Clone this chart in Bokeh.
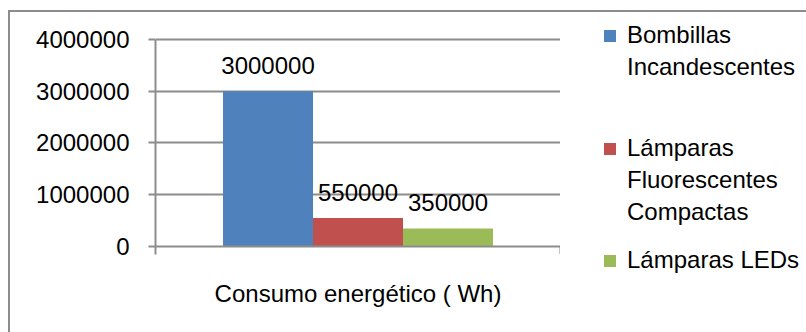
from bokeh.plotting import figure
from bokeh.layouts import row
from bokeh.models import (ColumnDataSource, FactorRange, Range1d, FixedTicker,
                          BasicTickFormatter, Span, Legend, LegendItem)
from bokeh.core.properties import value
from bokeh.transform import dodge
from bokeh.embed import file_html
from bokeh.resources import INLINE

# Chart data
category = ["Consumo energético ( Wh)"]
series = [["Bombillas", "Incandescentes"],
          ["Lámparas", "Fluorescentes", "Compactas"],
          ["Lámparas LEDs"]]
values = [3000000, 550000, 350000]
colors = ["#4F81BD", "#C0504D", "#9BBB59"]
y_ticks = [0, 1000000, 2000000, 3000000, 4000000]

FONT = "Liberation Sans"
GRID = "#8c8c8c"
AXIS_FOOT = -145000          # short drop of the axis below zero

# the frame fills the whole height; the axis itself is bounded to 0..4M
y_range = Range1d(-1661836, 4521739)

p = figure(x_range=FactorRange(*category), y_range=y_range,
           width=550, height=320, frame_width=405,
           min_border_left=145, min_border_right=0,
           min_border_top=0, min_border_bottom=0,
           output_backend="svg", toolbar_location=None,
           outline_line_color=None)

p.xaxis.visible = False
p.yaxis.bounds = (AXIS_FOOT, y_ticks[-1])
p.yaxis.ticker = FixedTicker(ticks=y_ticks)
p.yaxis.formatter = BasicTickFormatter(use_scientific=False)
p.yaxis.axis_line_color = GRID
p.yaxis.axis_line_width = 2
p.yaxis.major_tick_line_color = GRID
p.yaxis.major_tick_line_width = 2
p.yaxis.major_tick_out = 7
p.yaxis.major_tick_in = 0
p.yaxis.minor_tick_line_color = None
p.yaxis.major_label_standoff = 19
p.yaxis.major_label_text_font = FONT
p.yaxis.major_label_text_font_size = "24px"
p.yaxis.major_label_text_color = "#000000"

p.xgrid.grid_line_color = None
p.ygrid.ticker = FixedTicker(ticks=y_ticks[1:])
p.ygrid.grid_line_color = GRID
p.ygrid.grid_line_width = 2

offsets = [-0.2222, 0.0, 0.2222]
sources = []
for val, col, off in zip(values, colors, offsets):
    src = ColumnDataSource(dict(cat=category, v=[val], lab=[str(val)]))
    sources.append(src)
    p.vbar(x=dodge("cat", off, range=p.x_range), top="v", bottom=0,
           width=0.2222, source=src, fill_color=col, line_color=None)
    p.text(x=dodge("cat", off, range=p.x_range), y="v", text="lab", source=src,
           text_align="center", text_baseline="alphabetic", y_offset=-26,
           text_font=value(FONT), text_font_size=value("24px"),
           text_color="#000000")

# category axis line at zero and closing tick at the right boundary
p.add_layout(Span(location=0, dimension="width", line_color=GRID, line_width=2))
cat_src = ColumnDataSource(dict(cat=category, y0=[0], y1=[AXIS_FOOT]))
p.segment(x0=dodge("cat", 0.5, range=p.x_range), x1=dodge("cat", 0.5, range=p.x_range),
          y0="y0", y1="y1", source=cat_src, line_color=GRID, line_width=2)
# category name under the axis
p.text(x="cat", y="y1", text="cat", source=cat_src, text_align="center",
       text_baseline="alphabetic", y_offset=39,
       text_font=value(FONT), text_font_size=value("24px"), text_color="#000000")

# legend panel on the right, keyed to hidden copies of the bars
leg = figure(width=246, height=320, x_range=FactorRange(*category), y_range=y_range,
             min_border=0, output_backend="svg", toolbar_location=None,
             outline_line_color=None)
leg.axis.visible = False
leg.grid.visible = False
blank = leg.vbar(x="cat", top="v", width=0.1, source=sources[0],
                 fill_alpha=0, line_alpha=0, visible=False)

# bottom-left corner of each legend block, in pixels inside the panel
legend_pos = [(42, 249), (42, 104), (42, 56)]
for lines, col, src, loc in zip(series, colors, sources, legend_pos):
    key = leg.vbar(x="cat", top="v", width=0.1, source=src,
                   fill_color=col, line_color=None, visible=False)
    its = [LegendItem(label=lines[0], renderers=[key])]
    its += [LegendItem(label=t, renderers=[blank]) for t in lines[1:]]
    lg = Legend(items=its, location=loc,
                glyph_width=15, glyph_height=15, label_standoff=10,
                label_height=32, padding=0, margin=0, spacing=0,
                border_line_color=None, background_fill_alpha=0,
                label_text_font=FONT, label_text_font_size="24px",
                label_text_color="#000000")
    leg.add_layout(lg, "center")

layout = row(p, leg, styles={"margin-left": "8px", "margin-top": "10px",
                             "border-left": "2px solid #8c8c8c",
                             "border-top": "2px solid #8c8c8c"})

open("out.html", "w").write(file_html(layout, INLINE))
